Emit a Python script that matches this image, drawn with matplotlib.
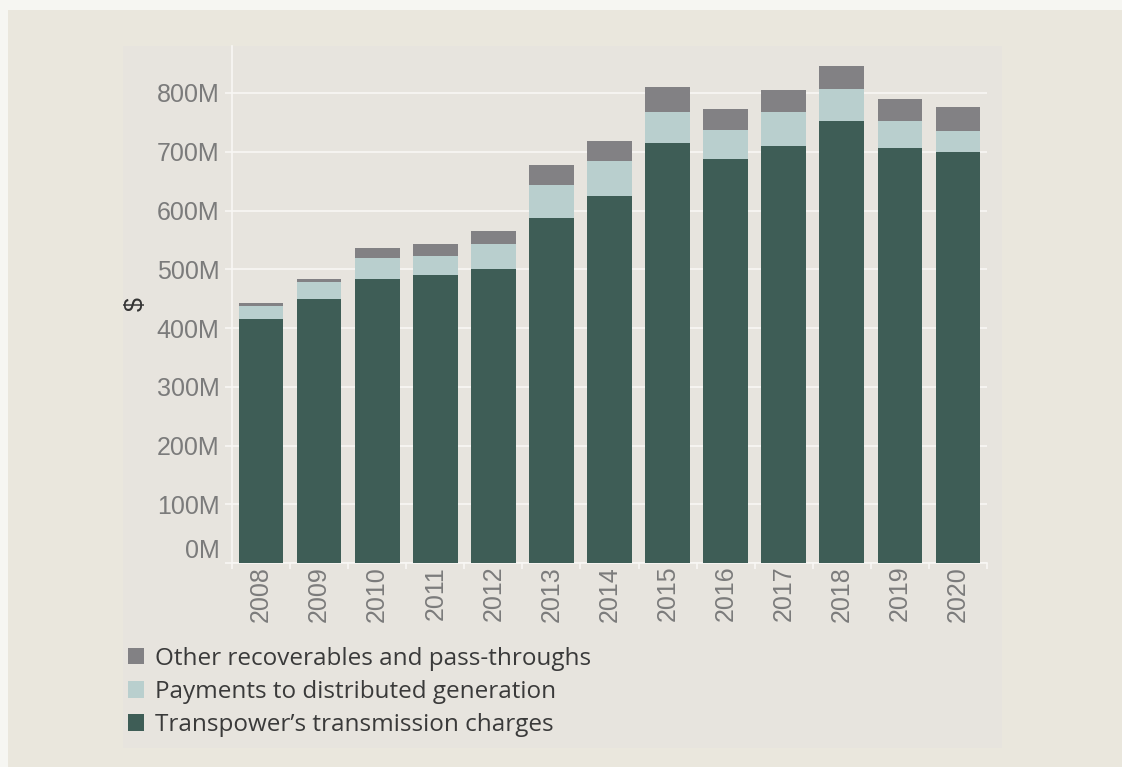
import numpy as np
import matplotlib
matplotlib.use("Agg")
import matplotlib.pyplot as plt
from matplotlib.patches import Rectangle, Patch
from matplotlib.ticker import FuncFormatter

# lines charges by year, $M (stacked bottom to top)
years = [2008, 2009, 2010, 2011, 2012, 2013, 2014, 2015, 2016, 2017, 2018, 2019, 2020]
transpower = [415, 450, 483, 490, 500, 587, 624, 715, 688, 709, 753, 706, 700]
dist_gen = [23, 29, 37, 33, 43, 56, 61, 53, 49, 59, 54, 47, 36]
other = [4, 4, 17, 20, 22, 34, 33, 42, 36, 37, 39, 37, 41]

labels = ["Transpower\u2019s transmission charges",
          "Payments to distributed generation",
          "Other recoverables and pass-throughs"]
colors = ["#3e5d56", "#b9cfce", "#828184"]

W, H = 1122, 767
fig = plt.figure(figsize=(W / 100, H / 100), dpi=100)
fig.patch.set_facecolor("#f6f6f2")

# background panels
fig.add_artist(Rectangle((8 / W, 0), 1, 757 / H, transform=fig.transFigure,
                         facecolor="#eae7dd", edgecolor="none", zorder=-3))
fig.add_artist(Rectangle((123 / W, 19 / H), 879 / W, 702 / H, transform=fig.transFigure,
                         facecolor="#e7e4de", edgecolor="none", zorder=-2))

ax = fig.add_axes([232 / W, 204 / H, 755 / W, 517 / H])
ax.set_facecolor("none")

x = np.arange(len(years))
t = np.array(transpower) * 1e6
d = np.array(dist_gen) * 1e6
o = np.array(other) * 1e6
bw = 0.77
ax.bar(x, t, bw, color=colors[0], zorder=3)
ax.bar(x, d, bw, bottom=t, color=colors[1], zorder=3)
ax.bar(x, o, bw, bottom=t + d, color=colors[2], zorder=3)

ax.set_xlim(-0.5, len(years) - 0.5)
ax.set_ylim(0, 880e6)
ax.set_yticks(np.arange(0, 801e6, 100e6))
ax.yaxis.set_major_formatter(FuncFormatter(lambda v, p: f"{v / 1e6:.0f}M"))
ax.set_xticks(x)
ax.set_xticklabels([str(y) for y in years], rotation=90)
ax.set_xticks(np.arange(-0.5, len(years), 1), minor=True)

ax.grid(axis="y", color="#f8f7f4", linewidth=1.2, zorder=1)
for s in ["top", "right"]:
    ax.spines[s].set_visible(False)
for s in ["left", "bottom"]:
    ax.spines[s].set_color("#f8f7f4")
    ax.spines[s].set_linewidth(1.2)
    ax.spines[s].set_zorder(2)

ax.tick_params(axis="y", colors="#f8f7f4", length=5, width=1.2, pad=4,
               labelcolor="#7b7b7b", labelsize=18)
ax.tick_params(axis="x", which="major", length=0, pad=2,
               labelcolor="#7b7b7b", labelsize=18)
ax.tick_params(axis="x", which="minor", colors="#f8f7f4", length=4, width=1.2)
for lab in ax.get_yticklabels() + ax.get_xticklabels():
    lab.set_fontfamily("Liberation Sans")
ax.get_yticklabels()[0].set_verticalalignment("bottom")

ax.set_ylabel("$", fontsize=18, color="#333333", fontfamily="Liberation Sans",
              labelpad=0)
ax.yaxis.set_label_coords(-0.112, 0.5)

handles = [Patch(facecolor=colors[i], edgecolor="none", label=labels[i]) for i in (2, 1, 0)]
fig.legend(handles=handles, loc="upper left", bbox_to_anchor=(118 / W, 1 - 637 / H),
           frameon=False, prop={"family": "Open Sans", "size": 17.5},
           handlelength=0.66, handleheight=0.66, handletextpad=0.45,
           labelspacing=0.38, borderaxespad=0, labelcolor="#3a3a3a")

fig.savefig("out.png", dpi=100, facecolor=fig.get_facecolor())
